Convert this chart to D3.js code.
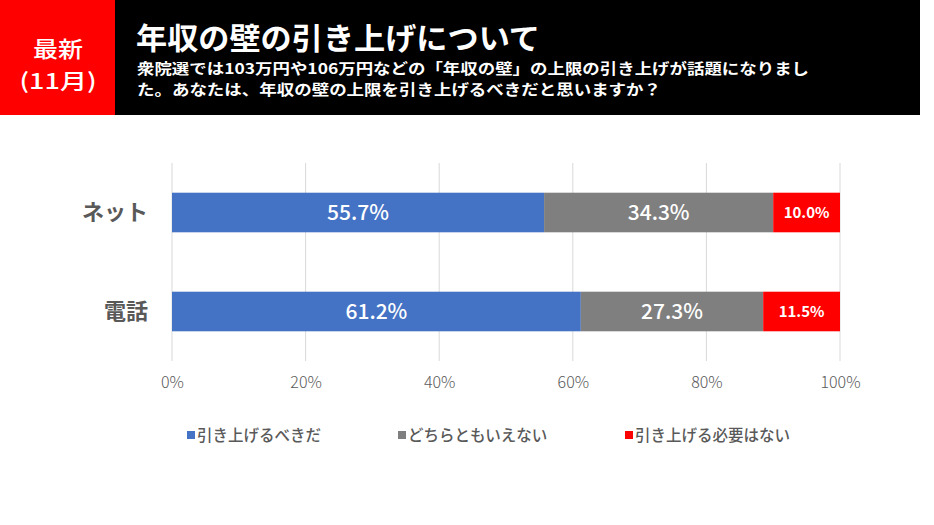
<!DOCTYPE html>
<html><head><meta charset="utf-8">
<script src="https://cdn.jsdelivr.net/npm/d3@7/dist/d3.min.js"></script>
<style>body{margin:0;background:#fff;}svg{display:block;}</style>
</head><body>
<svg id="c" width="934" height="525"></svg>
<script>
const categories = ["ネット", "電話"];
const seriesNames = ["引き上げるべきだ", "どちらともいえない", "引き上げる必要はない"];
const seriesColors = ["#4472C4", "#7F7F7F", "#FF0000"];
const values = {
  "引き上げるべきだ": [55.7, 61.2],
  "どちらともいえない": [34.3, 27.3],
  "引き上げる必要はない": [10.0, 11.5]
};
const tickValues = [0, 20, 40, 60, 80, 100];
const badgeLines = ["最新", "(11月)"];
const titleText = "年収の壁の引き上げについて";
const subtitleLines = ["衆院選では103万円や106万円などの「年収の壁」の上限の引き上げが話題になりまし", "た。あなたは、年収の壁の上限を引き上げるべきだと思いますか？"];

const font = "'Noto Sans CJK JP', 'Noto Sans', sans-serif";
const svg = d3.select("#c");

// Header
svg.append("rect").attr("x", 0).attr("y", 0).attr("width", 920).attr("height", 115).attr("fill", "#000");
svg.append("rect").attr("x", 0).attr("y", 0).attr("width", 115).attr("height", 115).attr("fill", "#FF0000");
svg.selectAll(".badge").data(badgeLines).join("text")
  .attr("x", 58).attr("y", (d, i) => 57 + i * 32)
  .attr("text-anchor", "middle").attr("fill", "#fff")
  .attr("font-family", font).attr("font-size", 21.5).attr("font-weight", 500)
  .attr("textLength", (d, i) => i === 0 ? 50 : 77).attr("lengthAdjust", "spacingAndGlyphs")
  .text(d => d);
svg.append("text").attr("x", 136).attr("y", 49)
  .attr("fill", "#fff").attr("font-family", font).attr("font-size", 30).attr("font-weight", 700)
  .attr("textLength", 404).attr("lengthAdjust", "spacingAndGlyphs")
  .text(titleText);
svg.selectAll(".sub").data(subtitleLines).join("text")
  .attr("x", 137).attr("y", (d, i) => 74 + i * 21)
  .attr("fill", "#fff").attr("font-family", font).attr("font-size", 14.5).attr("font-weight", 700)
  .attr("textLength", (d, i) => i === 0 ? 672 : 524).attr("lengthAdjust", "spacingAndGlyphs")
  .text(d => d);

// Chart
const x = d3.scaleLinear().domain([0, 100]).range([172, 840]);
const y = d3.scaleBand().domain(categories).range([163, 361]).paddingInner(0.6).paddingOuter(0.3);

const g = svg.append("g");
g.selectAll(".grid").data(tickValues).join("line")
  .attr("x1", d => x(d)).attr("x2", d => x(d))
  .attr("y1", 163).attr("y2", 361)
  .attr("stroke", "#D9D9D9").attr("stroke-width", 1);

const stackData = categories.map((c, i) => {
  const o = { cat: c };
  seriesNames.forEach(s => o[s] = values[s][i]);
  return o;
});
const stacked = d3.stack().keys(seriesNames)(stackData);

stacked.forEach((layer, si) => {
  const lg = g.append("g");
  lg.selectAll("rect").data(layer).join("rect")
    .attr("x", d => x(d[0])).attr("width", d => x(d[1]) - x(d[0]))
    .attr("y", d => y(d.data.cat)).attr("height", y.bandwidth())
    .attr("fill", seriesColors[si]);
  lg.selectAll("text").data(layer).join("text")
    .attr("x", d => (x(d[0]) + x(d[1])) / 2)
    .attr("y", d => y(d.data.cat) + y.bandwidth() / 2)
    .attr("dy", "0.36em")
    .attr("text-anchor", "middle").attr("fill", "#fff")
    .attr("font-family", font)
    .attr("font-size", si === 2 ? 15 : 21)
    .attr("font-weight", si === 2 ? 700 : 500)
    .text(d => (d[1] - d[0]).toFixed(1) + "%");
});

// Category labels
g.selectAll(".cat").data(categories).join("text")
  .attr("x", 148).attr("y", d => y(d) + y.bandwidth() / 2).attr("dy", "0.36em")
  .attr("text-anchor", "end").attr("fill", "#595959")
  .attr("font-family", font).attr("font-size", 22).attr("font-weight", 700)
  .text(d => d);

// X axis
const axis = d3.axisBottom(x).tickValues(tickValues).tickFormat(d => d + "%").tickSize(0).tickPadding(0);
const ax = svg.append("g").attr("transform", "translate(0,377)").call(axis);
ax.select(".domain").remove();
ax.selectAll("text").attr("font-family", font).attr("font-size", 16).attr("font-weight", 300)
  .attr("fill", "#595959").attr("dy", "0.71em");

// Legend
const legendX = [187, 398, 625];
const leg = svg.selectAll(".leg").data(seriesNames).join("g")
  .attr("transform", (d, i) => `translate(${legendX[i]},435)`);
leg.append("rect").attr("x", 0).attr("y", -4).attr("width", 8).attr("height", 8)
  .attr("fill", (d, i) => seriesColors[i]);
leg.append("text").attr("x", 10).attr("y", 0).attr("dy", "0.36em")
  .attr("fill", "#595959").attr("font-family", font).attr("font-size", 15.5).attr("font-weight", 500)
  .text(d => d);
</script>
</body></html>
